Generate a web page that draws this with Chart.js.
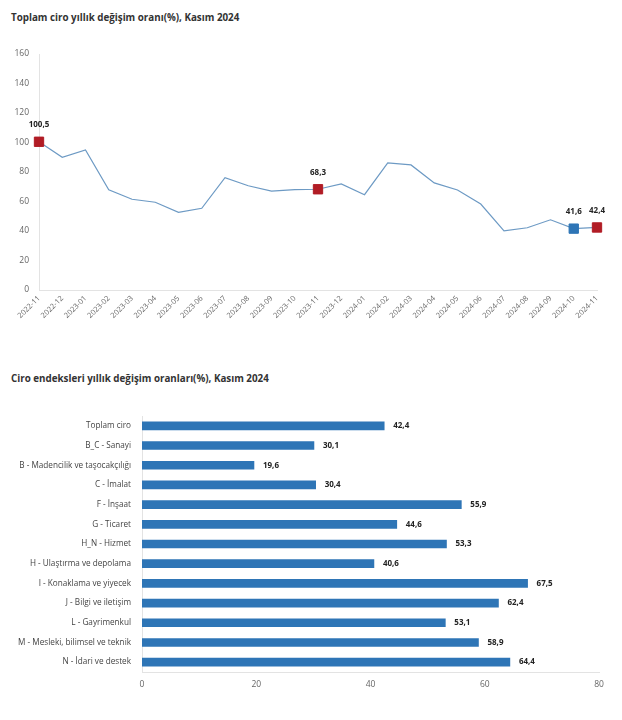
<!DOCTYPE html>
<html lang="tr">
<head>
<meta charset="utf-8">
<title>Ciro endeksleri</title>
<script src="https://cdn.jsdelivr.net/npm/chart.js@4.4.1/dist/chart.umd.min.js"></script>
<style>
  body { margin: 0; background: #fff; width: 622px; height: 720px; position: relative; overflow: hidden; }
  .baslik { position: absolute; left: 11px; font-family: "Open Sans", sans-serif; font-weight: bold; font-size: 9.8px; color: #333; white-space: nowrap; }
  canvas { position: absolute; left: 0; }
</style>
</head>
<body>
<div class="baslik" style="top: 11px;">Toplam ciro yıllık değişim oranı(%), Kasım 2024</div>
<canvas id="grafikCizgi" width="622" height="345" style="top: 0;"></canvas>
<div class="baslik" style="top: 372px;">Ciro endeksleri yıllık değişim oranları(%), Kasım 2024</div>
<canvas id="grafikCubuk" width="622" height="370" style="top: 350px;"></canvas>
<script>
// Veriler
const aylar = ['2022-11', '2022-12', '2023-01', '2023-02', '2023-03', '2023-04', '2023-05', '2023-06',
    '2023-07', '2023-08', '2023-09', '2023-10', '2023-11', '2023-12', '2024-01', '2024-02', '2024-03',
    '2024-04', '2024-05', '2024-06', '2024-07', '2024-08', '2024-09', '2024-10', '2024-11'];
const toplamCiro = [100.5, 90.0, 95.0, 68.0, 61.5, 59.5, 52.6, 55.4, 76.2, 70.7, 67.1, 68.0, 68.3,
    71.9, 64.6, 86.2, 84.8, 72.6, 67.8, 58.3, 40.1, 42.2, 47.6, 41.6, 42.4];
const vurguKirmizi = [0, 12, 24];   // Kasım ayları
const vurguMavi = [23];             // önceki ay

const sektorler = ['Toplam ciro', 'B_C - Sanayi', 'B - Madencilik ve taşocakçılığı', 'C - İmalat',
    'F - İnşaat', 'G - Ticaret', 'H_N - Hizmet', 'H - Ulaştırma ve depolama', 'I - Konaklama ve yiyecek',
    'J - Bilgi ve iletişim', 'L - Gayrimenkul', 'M - Mesleki, bilimsel ve teknik', 'N - İdari ve destek'];
const sektorDegisim = [42.4, 30.1, 19.6, 30.4, 55.9, 44.6, 53.3, 40.6, 67.5, 62.4, 53.1, 58.9, 64.4];

Chart.defaults.font.family = '"Open Sans", sans-serif';
Chart.defaults.animation = false;

const kirmizi = '#b11c25';
const mavi = '#2e75b6';

// Değer etiketleri (virgüllü ondalık)
const degerEtiketleri = {
    id: 'degerEtiketleri',
    afterDatasetsDraw(chart, args, opts) {
        const ctx = chart.ctx;
        const meta = chart.getDatasetMeta(0);
        const veri = chart.data.datasets[0].data;
        ctx.save();
        ctx.font = 'bold 8px "Open Sans", sans-serif';
        ctx.fillStyle = '#222';
        ctx.textBaseline = 'middle';
        meta.data.forEach((el, i) => {
            if (opts.sadece && !opts.sadece.includes(i)) return;
            const yazi = veri[i].toFixed(1).replace('.', ',');
            if (opts.yatay) {
                ctx.textAlign = 'left';
                ctx.fillText(yazi, el.x + 9, el.y);
            } else {
                ctx.textAlign = 'center';
                ctx.fillText(yazi, el.x, el.y - 17);
            }
        });
        ctx.restore();
    }
};

const noktaRenk = aylar.map((a, i) => vurguKirmizi.includes(i) ? kirmizi : (vurguMavi.includes(i) ? mavi : '#6d9ac4'));
const noktaBoyut = aylar.map((a, i) => (vurguKirmizi.includes(i) || vurguMavi.includes(i)) ? 6.6 : 0);

new Chart(document.getElementById('grafikCizgi'), {
    type: 'line',
    data: {
        labels: aylar,
        datasets: [{
            data: toplamCiro,
            borderColor: '#6d9ac4',
            borderWidth: 1.2,
            tension: 0,
            pointStyle: 'rect',
            pointRadius: noktaBoyut,
            pointHoverRadius: noktaBoyut,
            pointBackgroundColor: noktaRenk,
            pointBorderColor: noktaRenk,
            pointBorderWidth: 1
        }]
    },
    options: {
        responsive: false,
        layout: { padding: { top: 54, right: 25, left: 0, bottom: 0 } },
        plugins: {
            legend: { display: false },
            tooltip: { enabled: false },
            degerEtiketleri: { sadece: [0, 12, 23, 24] }
        },
        scales: {
            x: {
                grid: { display: false, drawTicks: false },
                border: { display: true, color: '#e3e3e3' },
                ticks: { autoSkip: false, minRotation: 45, maxRotation: 45, padding: 4, color: '#666', font: { size: 7.5 } },
                afterFit: s => { s.height = 55; }
            },
            y: {
                min: 0,
                max: 160,
                grid: { display: false, drawTicks: false },
                border: { display: true, color: '#e3e3e3' },
                ticks: { stepSize: 20, padding: 10, color: '#666', font: { size: 8.5 } },
                afterFit: s => { s.width = 39; }
            }
        }
    },
    plugins: [degerEtiketleri]
});

new Chart(document.getElementById('grafikCubuk'), {
    type: 'bar',
    data: {
        labels: sektorler,
        datasets: [{
            data: sektorDegisim,
            backgroundColor: mavi,
            barThickness: 8
        }]
    },
    options: {
        indexAxis: 'y',
        responsive: false,
        layout: { padding: { top: 66, right: 23, left: 0, bottom: 0 } },
        plugins: {
            legend: { display: false },
            tooltip: { enabled: false },
            degerEtiketleri: { yatay: true }
        },
        scales: {
            x: {
                min: 0,
                max: 80,
                grid: { display: false, drawTicks: false },
                border: { display: true, color: '#e3e3e3' },
                ticks: { stepSize: 20, padding: 7, color: '#666', font: { size: 8.5 } },
                afterFit: s => { s.height = 48; }
            },
            y: {
                grid: { display: false, drawTicks: false },
                border: { display: true, color: '#e3e3e3' },
                ticks: { padding: 11, color: '#444', font: { size: 8.2 } },
                afterFit: s => { s.width = 142; }
            }
        }
    },
    plugins: [degerEtiketleri]
});
</script>
</body>
</html>
